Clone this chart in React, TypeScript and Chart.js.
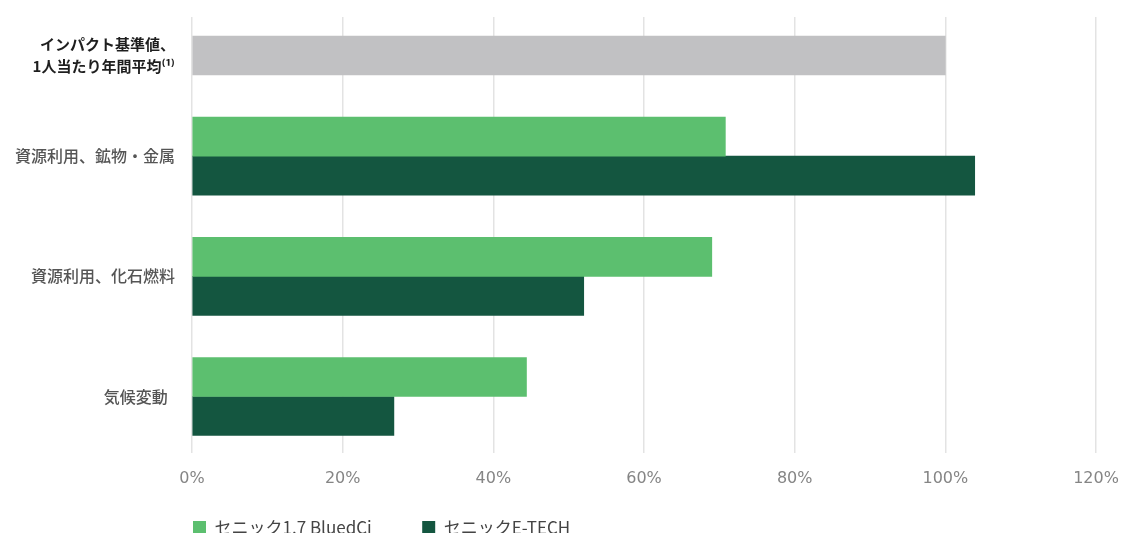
import React, { useEffect, useRef } from "react";
import { Chart, registerables } from "chart.js";

Chart.register(...registerables);

// ---- data ----
const categories: (string | string[])[] = [
  ["インパクト基準値、", "1人当たり年間平均⁽¹⁾"],
  "資源利用、鉱物・金属",
  "資源利用、化石燃料",
  "気候変動  ",
];
const categoryIndex = [0, 1, 2, 3];
const seriesNames = ["セニック1.7 BluedCi", "セニックE-TECH", "インパクト基準値"];
const bluedCiValues: (number | null)[] = [null, 70.8, 69.0, 44.4];
const eTechValues: (number | null)[] = [null, 103.9, 52.0, 26.8];
const baselineValues: (number | null)[] = [100, null, null, null];
const xTickValues = [0, 20, 40, 60, 80, 100, 120];

// ---- styles ----
const LIGHT = "#5cbf6f";
const DARK = "#145640";
const GRAY = "#c1c1c3";
const GRID = "#e3e3e3";
const CJK = '"Noto Sans CJK JP", "Noto Sans", "DejaVu Sans", sans-serif';

export default function App() {
  const ref = useRef<HTMLCanvasElement | null>(null);

  useEffect(() => {
    if (!ref.current) return;
    const toPts = (vals: (number | null)[]) =>
      vals.map((v, i) => ({ x: v, y: categoryIndex[i] }));
    const BAR = 39;
    const LABEL_SHIFT = 0.16; // first label sits beside the baseline bar

    const chart = new Chart(ref.current, {
      type: "bar",
      data: {
        datasets: [
          {
            label: seriesNames[0],
            data: toPts(bluedCiValues) as any,
            backgroundColor: LIGHT,
            stack: "a",
            barThickness: BAR,
            borderWidth: 0,
          },
          {
            label: seriesNames[1],
            data: toPts(eTechValues) as any,
            backgroundColor: DARK,
            stack: "b",
            barThickness: BAR,
            borderWidth: 0,
          },
          {
            label: seriesNames[2],
            data: toPts(baselineValues) as any,
            backgroundColor: GRAY,
            stack: "b",
            barThickness: BAR,
            borderWidth: 0,
          },
        ],
      },
      options: {
        indexAxis: "y",
        animation: false,
        responsive: false,
        clip: false as any,
        layout: { padding: { top: 17, right: 25, bottom: 0, left: 0 } },
        scales: {
          x: {
            type: "linear",
            min: 0,
            max: 120,
            stacked: false,
            afterBuildTicks: (scale: any) => {
              scale.ticks = xTickValues.map((v) => ({ value: v }));
            },
            afterFit: (scale: any) => {
              scale.height = 65;
              scale.paddingLeft = 0;
              scale.paddingRight = 0;
            },
            ticks: {
              padding: 16,
              color: "#858585",
              font: { family: '"DejaVu Sans", sans-serif', size: 16 },
              callback: (v: any) => `${v}%`,
            },
            grid: { color: GRID, lineWidth: 1.5, drawTicks: false },
            border: { display: false },
          },
          y: {
            type: "linear",
            reverse: true,
            offset: false,
            min: -0.158,
            max: 3.47,
            bounds: "data",
            afterBuildTicks: (scale: any) => {
              scale.ticks = categoryIndex.map((v, i) => ({
                value: i === 0 ? v + LABEL_SHIFT : v,
              }));
            },
            afterFit: (scale: any) => {
              scale.width = 192;
              scale.paddingTop = 0;
              scale.paddingBottom = 0;
            },
            ticks: {
              autoSkip: false,
              padding: 17,
              callback: (_v: any, i: number) => categories[i],
              color: (ctx: any) => (ctx.index === 0 ? "#1e1e1e" : "#555555"),
              font: (ctx: any) =>
                ctx.index === 0
                  ? { family: CJK, size: 15, weight: "bold", lineHeight: 1.5 }
                  : { family: CJK, size: 16, weight: "500" },
            },
            grid: { display: false, drawTicks: false, offset: false },
            border: { display: false },
          },
        },
        plugins: {
          tooltip: { enabled: false },
          legend: {
            position: "bottom",
            align: "start",
            fullSize: false,
            labels: {
              boxWidth: 13,
              boxHeight: 13,
              padding: 1,
              color: "#444444",
              font: { family: CJK, size: 17 },
              filter: (item: any) => item.datasetIndex !== 2,
              generateLabels: (c: any) => {
                const items = (Chart.defaults as any).plugins.legend.labels.generateLabels(c);
                const ctx = c.ctx;
                ctx.save();
                ctx.font = `17px ${CJK}`;
                const first = items[0];
                while (ctx.measureText(first.text).width < 204) first.text += " ";
                ctx.restore();
                return items;
              },
            },
          },
        },
      },
    } as any);
    return () => chart.destroy();
  }, []);

  return (
    <div
      style={{
        position: "fixed",
        left: 0,
        top: 0,
        width: 1121,
        height: 533,
        overflow: "hidden",
        background: "#ffffff",
      }}
    >
      <canvas ref={ref} width={1121} height={546} style={{ display: "block" }} />
    </div>
  );
}
